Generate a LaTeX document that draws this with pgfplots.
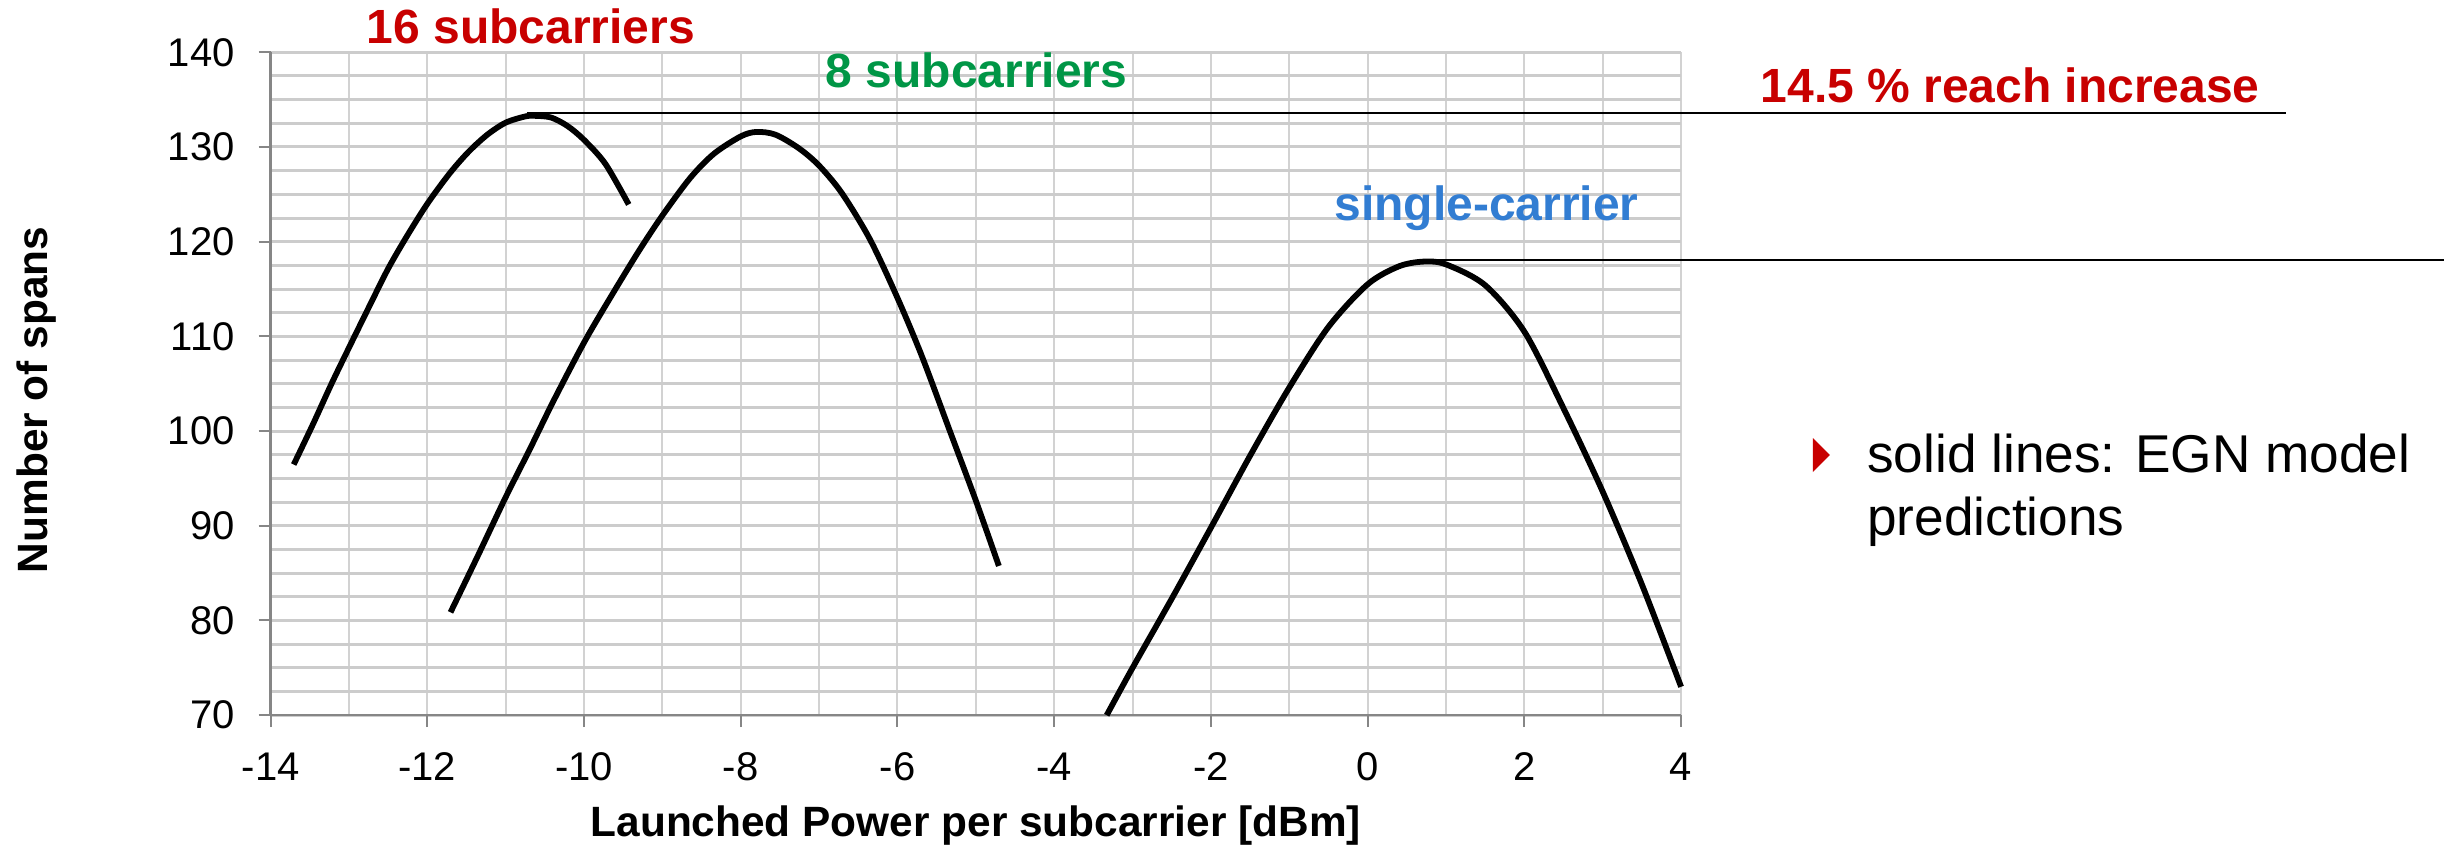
\documentclass[border=0pt]{standalone}
\usepackage{fontspec}
\setmainfont{Liberation Sans}
\usepackage{pgfplots}
\pgfplotsset{compat=1.18}
\definecolor{txtred}{RGB}{200,0,0}
\definecolor{txtgreen}{RGB}{0,150,70}
\definecolor{txtblue}{RGB}{50,125,210}
\definecolor{axgray}{RGB}{134,134,134}
\definecolor{hgrid}{RGB}{204,204,204}
\definecolor{vgrid}{RGB}{210,210,210}
\begin{document}
\begin{tikzpicture}
\begin{axis}[
  scale only axis,
  width=352.65pt, height=165.75pt,
  xmin=-14, xmax=4, ymin=70, ymax=140,
  clip=false,
  axis x line*=bottom, axis y line*=left,
  axis line style={axgray, line width=0.6pt},
  xtick={-14,-12,-10,-8,-6,-4,-2,0,2,4},
  xticklabels={-14,-12,-10,-8,-6,-4,-2,0,2,4},
  ytick={70,80,90,100,110,120,130,140},
  yticklabels={70,80,90,100,110,120,130,140},
  minor x tick num=1,
  minor y tick num=3,
  grid=both,
  major x grid style={vgrid, line width=0.5pt},
  minor x grid style={vgrid, line width=0.5pt},
  major y grid style={hgrid, line width=0.75pt},
  minor y grid style={hgrid, line width=0.75pt},
  tick align=outside,
  major tick length=3pt,
  minor tick length=0pt,
  tick style={axgray, line width=0.5pt},
  ticklabel style={font=\fontsize{10}{12}\selectfont, inner sep=0pt},
  yticklabel style={anchor=east, xshift=-5.8pt},
  xticklabel style={anchor=base, yshift=-13.25pt},
  xlabel={Launched Power per subcarrier [dBm]},
  ylabel={Number of spans},
  label style={font=\bfseries\fontsize{10.6}{12}\selectfont, inner sep=0pt},
  xlabel style={at={(axis description cs:0.5,-0.1836)}, anchor=base},
  ylabel style={at={(axis description cs:-0.1585,0.4756)}, anchor=base},
]
% 16 subcarriers
\addplot[black, line width=1.45pt, smooth] coordinates {
(-13.705,96.47) (-13.464,100.64) (-13.223,104.99) (-13.0,108.8) (-12.741,113.16)
(-12.5,117.15) (-12.259,120.6) (-12.0,124.0) (-11.716,127.2) (-11.475,129.48)
(-11.234,131.30) (-11.0,132.57) (-10.753,133.22) (-10.63,133.29) (-10.42,133.11)
(-10.21,132.21) (-10.0,130.75) (-9.727,128.21) (-9.43,123.93)};
% 8 subcarriers
\addplot[black, line width=1.45pt, smooth] coordinates {
(-11.704,80.86) (-11.354,86.85) (-11.0,93.02) (-10.691,98.10) (-10.39,103.18)
(-10.0,109.35) (-9.667,114.06) (-9.305,118.96) (-9.0,122.77) (-8.642,126.76)
(-8.34,129.30) (-8.0,131.12) (-7.80,131.59) (-7.557,131.30) (-7.256,129.85)
(-7.0,128.03) (-6.71,125.13) (-6.35,120.23) (-6.0,114.06) (-5.688,107.90)
(-5.327,99.91) (-5.0,92.66) (-4.706,85.76)};
% single-carrier
\addplot[black, line width=1.45pt, smooth] coordinates {
(-3.33,70.0) (-3.0,75.0) (-2.5,82.3) (-2.0,89.8) (-1.5,97.4) (-1.0,104.6)
(-0.5,111.0) (0.0,115.5) (0.4,117.4) (0.72,117.9) (1.0,117.6) (1.5,115.4)
(2.0,110.5) (2.5,102.4) (3.0,93.6) (3.5,83.8) (4.0,73.0)};
% reference lines
\addplot[black, line width=0.6pt] coordinates {(-10.73,133.6) (11.72,133.6)};
\addplot[black, line width=0.6pt] coordinates {(0.69,118.07) (13.73,118.07)};
% annotations
\node[anchor=base, inner sep=0pt, text=txtred, font=\bfseries\fontsize{12}{14}\selectfont] at (axis cs:-10.68,140.98) {16 subcarriers};
\node[anchor=base, inner sep=0pt, text=txtgreen, font=\bfseries\fontsize{12}{14}\selectfont] at (axis cs:-4.99,136.23) {8 subcarriers};
\node[anchor=base, inner sep=0pt, text=txtred, font=\bfseries\fontsize{12}{14}\selectfont] at (axis cs:8.20,134.65) {14.5 \% reach increase};
\node[anchor=base, inner sep=0pt, text=txtblue, font=\bfseries\fontsize{12}{14}\selectfont] at (axis cs:1.517,122.29) {single-carrier};
\fill[txtred] (axis cs:5.681,95.68) -- (axis cs:5.681,99.27) -- (axis cs:5.898,97.475) -- cycle;
\node[anchor=base west, inner sep=0pt, font=\fontsize{13.3}{16}\selectfont] at (axis cs:6.366,95.68) {solid lines: EGN model};
\node[anchor=base west, inner sep=0pt, font=\fontsize{13.3}{16}\selectfont] at (axis cs:6.366,88.97) {predictions};
\coordinate (bbSW) at (axis cs:-17.4533,56.093);
\coordinate (bbNE) at (axis cs:13.851,145.523);
\end{axis}
\pgfresetboundingbox
\path[use as bounding box] (bbSW) rectangle (bbNE);
\end{tikzpicture}
\end{document}
